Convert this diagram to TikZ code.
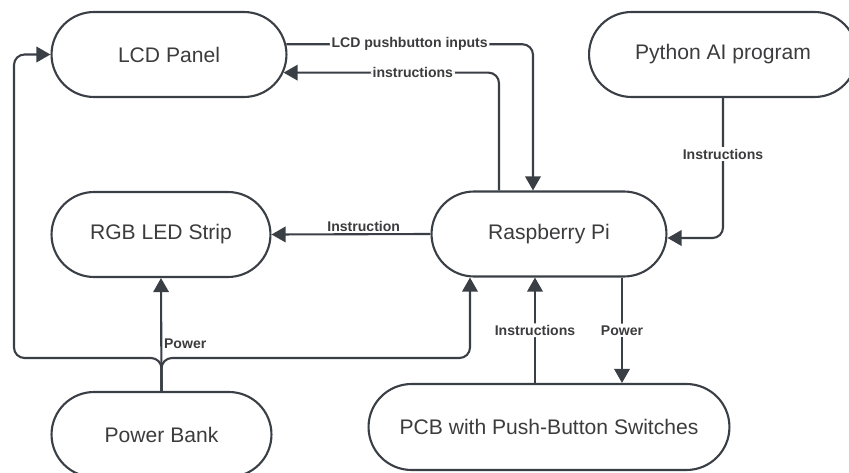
\documentclass[tikz,border=0pt]{standalone}
\usepackage{fontspec}
\setmainfont{Liberation Sans}
\usetikzlibrary{
    shapes.misc,
    arrows.meta,
    calc
}
\definecolor{lineclr}{RGB}{58,63,70}
\definecolor{textclr}{RGB}{60,60,62}
\tikzset {
    block/.style = {
        rounded rectangle,
        draw = lineclr,
        line width = 1.2pt,
        minimum height = 1.7cm,
        inner sep = 2pt,
        text = textclr,
        font = \fontsize{12}{14}\selectfont
    },
    wire/.style = {draw = lineclr, line width = 1.2pt, rounded corners = 6pt},
    arrowed/.style = {wire, -{Triangle[length = 8pt, width = 8.8pt]}},
    wire tag/.style = {font = \bfseries\fontsize{8}{9.6}\selectfont, text = textclr, inner sep = 1pt},
    on wire/.style = {wire tag, fill = white}
}
\begin{document}
\begin{tikzpicture}[x = 0.02cm, y = -0.02cm]
    \clip (0, 0) rectangle (849, 473);
    \node (lcd) [block, minimum width = 4.84cm] at (169, 54.5) {LCD Panel};
    \node (py) [block, minimum width = 5.5cm] at (723, 54.5) {Python AI program};
    \node (rgb) [block, minimum width = 4.52cm] at (161, 234.5) {RGB LED Strip};
    \node (rpi) [block, minimum width = 4.84cm] at (549, 234) {Raspberry Pi};
    \node (bank) [block, minimum width = 4.54cm] at (161.5, 434.5) {Power Bank};
    \node (pcb) [block, minimum width = 7.36cm, minimum height = 1.72cm] at (549, 427) {PCB with Push-Button Switches};
    \coordinate (lsplit) at (14, 358);
    \coordinate (rsplit) at (470, 358);

    \draw [arrowed] (lcd.5) -| node [on wire, pos = 0.25] {LCD pushbutton inputs} ($(rpi.north) + (-16, 0)$);
    \draw [arrowed] ($(rpi.north) + (-50, 0)$) |- node [on wire, pos = 0.7] {instructions} (lcd.-9);
    \draw [arrowed] (py.south) |- node [on wire, pos = 0.2] {Instructions} ($(rpi.east) + (0, 4)$);
    \draw [arrowed] (rpi.west) -- node [wire tag, above, pos = 0.42] {Instruction} (rgb.east);
    \draw [arrowed] (bank.north) -- node [wire tag, right, pos = 0.42] {Power} (rgb.south);
    \draw [arrowed] (bank.north) |- (lsplit) |- (lcd.west);
    \draw [arrowed] (bank.north) |- (rsplit) -- ($(rpi.south) + (-79, 0)$);
    \draw [arrowed] ($(pcb.north) + (-14, 0)$) -- node [on wire] {Instructions} ($(rpi.south) + (-14, 0)$);
    \draw [arrowed] ($(rpi.south) + (73, 0)$) -- node [on wire] {Power} ($(pcb.north) + (73, 0)$);
\end{tikzpicture}
\end{document}
